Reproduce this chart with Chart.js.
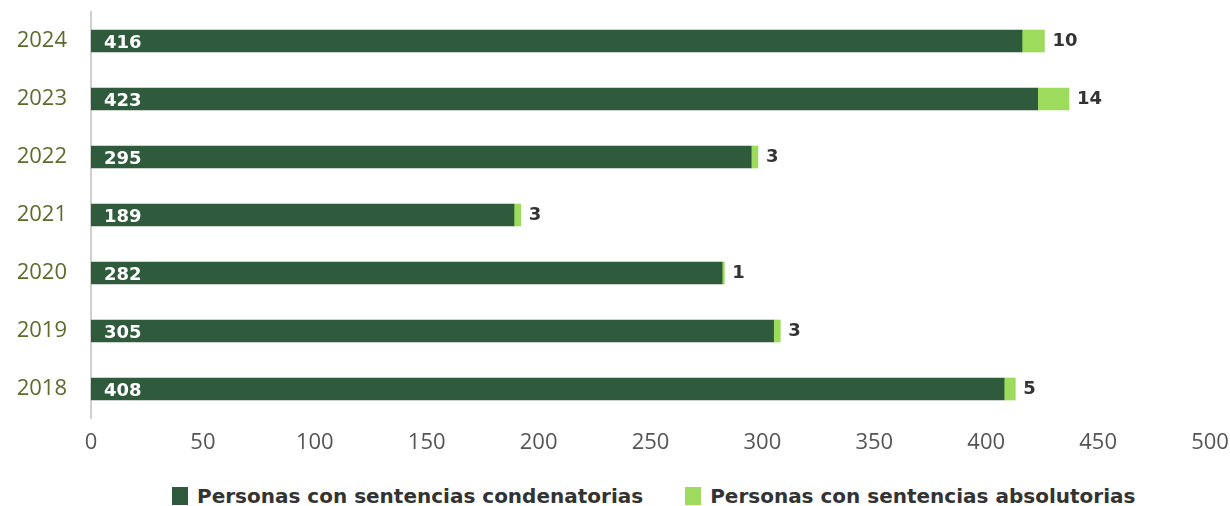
<!DOCTYPE html>
<html>
<head>
<meta charset="utf-8">
<script src="https://cdn.jsdelivr.net/npm/chart.js@4/dist/chart.umd.min.js"></script>
<style>
    html, body { margin: 0; padding: 0; background: #ffffff; }
    .chart-container { position: relative; width: 1230px; height: 506px; }
    .chart-box { position: absolute; left: 0; top: 0; width: 1230px; height: 470px; }
    #legend {
        position: absolute; left: 172px; top: 484px;
        display: flex; gap: 42px;
        font-family: 'DejaVu Sans', sans-serif; font-weight: bold; font-size: 20px;
        color: #333333; white-space: nowrap;
    }
    #legend .item { display: flex; align-items: center; }
    #legend .swatch { width: 16px; height: 18px; margin-right: 9px; }
</style>
</head>
<body>
<div class="chart-container">
    <div class="chart-box"><canvas id="sentenciasChart"></canvas></div>
    <div id="legend"></div>
</div>
<script>
const years = ["2024", "2023", "2022", "2021", "2020", "2019", "2018"];
const condenatorias = [416, 423, 295, 189, 282, 305, 408];
const absolutorias = [10, 14, 3, 3, 1, 3, 5];
const xTicks = [0, 50, 100, 150, 200, 250, 300, 350, 400, 450, 500];

const DARK_GREEN = "#2f5a3b";
const LIGHT_GREEN = "#9cdb5c";
const TICK_FONT = "'Open Sans', sans-serif";
const LABEL_FONT = "'DejaVu Sans', sans-serif";

// writes the values: inside the dark bar at its start, after the light bar at its end
const barLabels = {
    id: "barLabels",
    afterDatasetsDraw(chart) {
        const ctx = chart.ctx;
        const xScale = chart.scales.x;
        ctx.save();
        ctx.font = "bold 18px " + LABEL_FONT;
        ctx.textBaseline = "middle";
        ctx.textAlign = "left";

        chart.getDatasetMeta(0).data.forEach((bar, i) => {
            ctx.fillStyle = "#ffffff";
            ctx.fillText(condenatorias[i], xScale.getPixelForValue(0) + 13, bar.y + 2);
        });

        chart.getDatasetMeta(1).data.forEach((bar, i) => {
            ctx.fillStyle = "#333333";
            ctx.fillText(absolutorias[i], bar.x + 8, bar.y);
        });
        ctx.restore();
    }
};

const ctx = document.getElementById("sentenciasChart").getContext("2d");

const chart = new Chart(ctx, {
    type: "bar",
    data: {
        labels: years,
        datasets: [
            {
                label: "Personas con sentencias condenatorias",
                data: condenatorias,
                backgroundColor: DARK_GREEN,
                barThickness: 22
            },
            {
                label: "Personas con sentencias absolutorias",
                data: absolutorias,
                backgroundColor: LIGHT_GREEN,
                barThickness: 22
            }
        ]
    },
    options: {
        indexAxis: "y",
        responsive: true,
        maintainAspectRatio: false,
        animation: false,
        layout: {
            padding: { top: 12, right: 20, left: 0, bottom: 0 }
        },
        plugins: {
            legend: { display: false },
            tooltip: { enabled: false }
        },
        scales: {
            x: {
                stacked: true,
                min: 0,
                max: 500,
                afterBuildTicks: (axis) => {
                    axis.ticks = xTicks.map(v => ({ value: v }));
                },
                afterFit: (axis) => {
                    axis.height = 52;
                    axis.paddingLeft = 0;
                    axis.paddingRight = 0;
                },
                grid: { display: false },
                border: { display: false },
                ticks: {
                    color: "#555555",
                    font: { family: TICK_FONT, size: 22 },
                    padding: 4
                }
            },
            y: {
                stacked: true,
                afterFit: (axis) => {
                    axis.width = 91;
                    axis.paddingTop = 0;
                    axis.paddingBottom = 0;
                },
                grid: { display: false },
                border: { display: true, color: "#cfcfcf", width: 2 },
                ticks: {
                    color: "#5d6b2c",
                    font: { family: TICK_FONT, size: 22 },
                    padding: 16
                }
            }
        }
    },
    plugins: [barLabels]
});

// legend drawn as html under the canvas, built from the datasets
const legendEl = document.getElementById("legend");
chart.data.datasets.forEach(ds => {
    const item = document.createElement("div");
    item.className = "item";
    item.innerHTML = `<span class="swatch" style="background:${ds.backgroundColor}"></span><span>${ds.label}</span>`;
    legendEl.appendChild(item);
});
</script>
</body>
</html>
